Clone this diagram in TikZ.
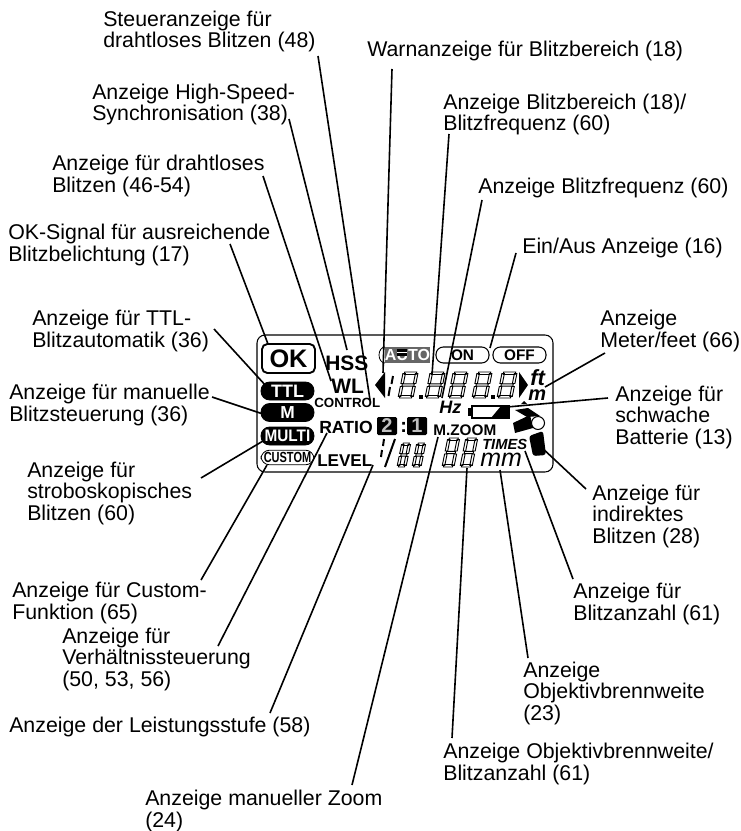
\documentclass[tikz,border=0pt]{standalone}
\usepackage{fontspec}
\setmainfont{Liberation Sans}
\usepackage{xcolor}
\usepackage{tikz}
\usetikzlibrary{calc}

\tikzset{
  lbl/.style={anchor=base west, inner sep=0pt, align=left, font=\fontsize{16}{16.1}\selectfont},
  lead/.style={line width=1.2pt},
  lcd/.style={anchor=base west, inner sep=0pt, font=\bfseries\fontsize{#1}{#1}\selectfont},
  lcdit/.style={anchor=base west, inner sep=0pt, font=\bfseries\itshape\fontsize{#1}{#1}\selectfont},
  pill/.style={draw=black, line width=0.6pt, fill=black, text=white, inner sep=0pt, minimum width=39.75pt, minimum height=13.5pt, rounded corners=6.5pt},
  swbox/.style={draw=black, line width=0.8pt, fill=white, inner sep=0pt, minimum width=39.75pt, minimum height=12pt, rounded corners=5.5pt, font=\bfseries\fontsize{11.5}{11.5}\selectfont},
  ratiobox/.style={fill=black, text=white!75!black, inner sep=0pt, minimum width=15pt, minimum height=13.5pt, rounded corners=1pt, font=\bfseries\fontsize{15}{15}\selectfont}
}

\newcommand{\segdigit}[4]{%
  \begin{scope}[shift={(#1,#2)}, xslant=0.2, line width=0.7pt]
    \draw (1.5,-#4) rectangle (#3-1.5,-#4+2.5);
    \draw (1.5,-#4/2-1.2) rectangle (#3-1.5,-#4/2+1.2);
    \draw (1.5,0) rectangle (#3-1.5,-2.5);
    \draw (0,-1.5) rectangle (2.5,-#4/2+1.5);
    \draw (0,-#4/2-1.5) rectangle (2.5,-#4+1.5);
    \draw (#3-2.5,-1.5) rectangle (#3,-#4/2+1.5);
    \draw (#3-2.5,-#4/2-1.5) rectangle (#3,-#4+1.5);
  \end{scope}}

\begin{document}
\begin{tikzpicture}[x=0.75pt, y=-0.75pt]
\useasboundingbox (0,0) rectangle (741,831);

\draw[line width=0.8pt, rounded corners=6pt] (257,335) rectangle (553,472);

\node[draw, line width=1.4pt, rounded corners=4pt, inner sep=0pt, minimum width=39.75pt, minimum height=21.75pt, font=\bfseries\fontsize{19}{19}\selectfont] (okbox) at (288.5,358.5) {OK};
\node[pill, font=\bfseries\fontsize{13.5}{13.5}\selectfont] (ttl) at (287.5,391) {TTL};
\node[pill, font=\bfseries\fontsize{13}{13}\selectfont] (manual) at (287.5,412.5) {M};
\node[pill, font=\bfseries\fontsize{12.5}{12.5}\selectfont] (multi) at (287.5,436) {\scalebox{0.92}[1]{MULTI}};
\node[pill, fill=white, text=black, minimum height=11pt, font=\bfseries\fontsize{11}{11}\selectfont] (custom) at (287.5,457.5) {\scalebox{0.75}[1]{CUSTOM}};

\node[lcd=15.7] (hss) at (325,370) {HSS};
\node[lcd=15.7] (wl) at (331,393) {WL};
\node[lcd=10] (control) at (314,407) {CONTROL};
\node[lcd=13.2] (ratio) at (319,433) {RATIO};
\node[lcd=12.8] (level) at (317,466) {LEVEL};

\draw[line width=0.6pt] (385,347) arc[start angle=270, end angle=90, x radius=6, y radius=8];
\node[fill=black!60, text=white, inner sep=0pt, minimum width=33.75pt, minimum height=12pt, font=\bfseries\fontsize{12}{12}\selectfont] (auto) at (407.5,355) {AUTO};
\fill (397,349) rectangle (407,356);
\draw[white, line width=0.6pt] (397,352.5) -- (407,352.5);
\node[swbox] (on) at (462.5,355) {ON};
\node[swbox] (off) at (519.5,355) {OFF};

\fill (385,372) -- (375,385) -- (385,398) -- cycle;
\fill (519,372) -- (528,385) -- (519,398) -- cycle;
\draw[line width=1.5pt] (393,376) -- (391.5,384) (390,387) -- (388.5,396);
\segdigit{398}{398}{15}{26}
\segdigit{425}{398}{15}{26}
\segdigit{448}{398}{15}{26}
\segdigit{472}{398}{15}{26}
\segdigit{497}{398}{15}{26}
\fill (419,394.5) rectangle (423,398.5);
\fill (491,394.5) rectangle (495,398.5);
\node[lcdit=16.5] (ft) at (530,385) {ft};
\node[lcdit=15] (meter) at (528,400) {m};
\node[lcdit=13.5] (hz) at (439,413) {Hz};

\draw[line width=1pt] (472,406) rectangle (509,418);
\fill (468,408) rectangle (472,416);
\fill (491,418) -- (501,406) -- (509,406) -- (509,418) -- cycle;
\coordinate (battend) at (507,407);

\fill (515,410) -- (528,408) -- (540,416) -- (527,417) -- cycle;
\fill (524,401) -- (527,404) -- (521,404) -- cycle;
\fill (513,423) -- (530,415) -- (533,428) -- (515,433) -- cycle;
\draw[line width=0.8pt, fill=white] (538,423) circle[radius=6.5];
\fill[rounded corners=2pt] (529,436) -- (543,431) -- (546,455) -- (533,456) -- cycle;
\coordinate (flashend) at (540,446);

\node[ratiobox] (two) at (387,426) {2};
\node[lcd=15] (colon) at (400,432) {:};
\node[ratiobox] (one) at (417,426) {1};
\node[lcd=11.5] (mzoom) at (433,435) {M.ZOOM};

\draw[line width=1.5pt] (384,439) -- (383,446) (382,450) -- (381,457);
\draw[line width=1.5pt] (395,439) -- (385,467);
\segdigit{397}{467}{9}{24}
\segdigit{412}{467}{9}{24}
\segdigit{442}{467}{12}{29}
\segdigit{460}{467}{12}{29}
\coordinate (bigend) at (467,468);
\node[lcdit=11] (times) at (482,449) {TIMES};
\node[anchor=base west, inner sep=0pt, font=\itshape\fontsize{18.75}{18.75}\selectfont] (mm) at (480,466) {mm};

\coordinate (warnend) at (383,373);
\coordinate (rangeend) at (432,375);

\node[lbl] (lblwlctrl) at (103,48) {Steueranzeige für\\drahtloses Blitzen (48)};
\node[lbl] (lblwarn) at (367,57) {Warnanzeige für Blitzbereich (18)};
\node[lbl] (lblhss) at (92,121) {Anzeige High-Speed-\\Synchronisation (38)};
\node[lbl] (lblrange) at (443,131) {Anzeige Blitzbereich (18)/\\Blitzfrequenz (60)};
\node[lbl] (lblwl) at (52,192) {Anzeige für drahtloses\\Blitzen (46-54)};
\node[lbl] (lblfreq) at (478,194) {Anzeige Blitzfrequenz (60)};
\node[lbl] (lblok) at (8,261) {OK-Signal für ausreichende\\Blitzbelichtung (17)};
\node[lbl] (lblonoff) at (522,253) {Ein/Aus Anzeige (16)};
\node[lbl] (lblttl) at (32,347) {Anzeige für TTL-\\Blitzautomatik (36)};
\node[lbl] (lblmeter) at (600,347) {Anzeige\\Meter/feet (66)};
\node[lbl] (lblmanual) at (9,421) {Anzeige für manuelle\\Blitzsteuerung (36)};
\node[lbl] (lblbatt) at (615,444) {Anzeige für\\schwache\\Batterie (13)};
\node[lbl] (lblmulti) at (27,520) {Anzeige für\\stroboskopisches\\Blitzen (60)};
\node[lbl] (lblflash) at (592,543) {Anzeige für\\indirektes\\Blitzen (28)};
\node[lbl] (lblcustom) at (12,619) {Anzeige für Custom-\\Funktion (65)};
\node[lbl] (lblcount) at (573,620) {Anzeige für\\Blitzanzahl (61)};
\node[lbl] (lblratio) at (62,686) {Anzeige für\\Verhältnissteuerung\\(50, 53, 56)};
\node[lbl] (lblfocal) at (523,720) {Anzeige\\Objektivbrennweite\\(23)};
\node[lbl] (lbllevel) at (9,732) {Anzeige der Leistungsstufe (58)};
\node[lbl] (lblbig) at (443,780) {Anzeige Objektivbrennweite/\\Blitzanzahl (61)};
\node[lbl] (lblzoom) at (145,827) {Anzeige manueller Zoom\\(24)};

\draw[lead] ($(lblwlctrl.base west)+(215,8)$) -- ($(control.base west)+(56,-7)$);
\draw[lead] ($(lblwarn.base west)+(25,12)$) -- (warnend);
\draw[lead] ($(lblhss.base west)+(197,-2)$) -- ($(hss.base west)+(22,-20)$);
\draw[lead] ($(lblrange.base west)+(6,3)$) -- (rangeend);
\draw[lead] ($(lblwl.base west)+(211,-16)$) -- ($(wl.base west)+(0,-12)$);
\draw[lead] ($(lblfreq.base west)+(4,6)$) -- ($(hz.base west)+(3,-15)$);
\draw[lead] ($(lblok.base west)+(222,-17)$) -- ($(okbox.center)+(-20.5,-14.5)$);
\draw[lead] ($(lblonoff.base west)+(-6,0)$) -- ($(on.center)+(27.5,-7)$);
\draw[lead] ($(lblttl.base west)+(182,-18)$) -- ($(ttl.center)+(-20.5,-4)$);
\draw[lead] ($(lblmeter.base west)+(5,6)$) -- ($(meter.base west)+(17,-13)$);
\draw[lead] ($(lblmanual.base west)+(203,-24)$) -- ($(manual.center)+(-18.5,3.5)$);
\draw[lead] ($(lblbatt.base west)+(-7,-46)$) -- (battend);
\draw[lead] ($(lblmulti.base west)+(174,-42)$) -- ($(multi.center)+(-24.5,5)$);
\draw[lead] ($(lblflash.base west)+(-6,-54)$) -- (flashend);
\draw[lead] ($(lblcustom.base west)+(189,-39)$) -- ($(custom.center)+(-20.5,7.5)$);
\draw[lead] ($(lblcount.base west)+(0,-41)$) -- ($(times.base west)+(43,2)$);
\draw[lead] ($(lblratio.base west)+(156,-40)$) -- ($(ratio.base west)+(8,0)$);
\draw[lead] ($(lblfocal.base west)+(5,-62)$) -- ($(mm.base west)+(20,4)$);
\draw[lead] ($(lbllevel.base west)+(261,-19)$) -- ($(level.base west)+(56,-1)$);
\draw[lead] ($(lblbig.base west)+(9,-42)$) -- (bigend);
\draw[lead] ($(lblzoom.base west)+(207,-42)$) -- ($(mzoom.base west)+(5,2)$);
\end{tikzpicture}
\end{document}
